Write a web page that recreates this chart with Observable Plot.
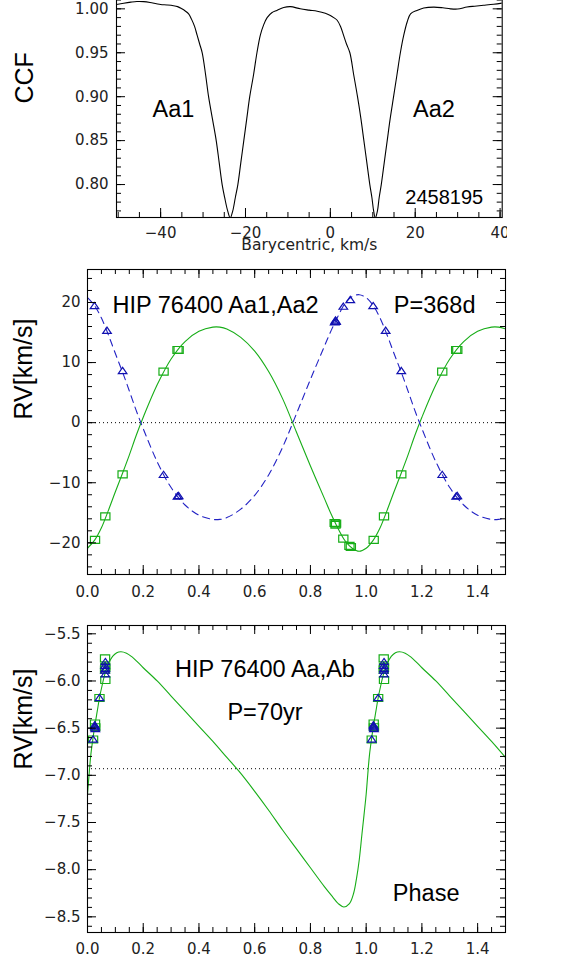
<!DOCTYPE html>
<html><head><meta charset="utf-8">
<script src="https://cdn.jsdelivr.net/npm/d3@7"></script>
<script src="https://cdn.jsdelivr.net/npm/@observablehq/plot@0.6"></script>
<style>
body{margin:0;background:#fff;}
#chart{position:relative;width:572px;height:962px;overflow:hidden;background:#fff;}
</style></head><body><div id="chart"></div>
<script>
// ---------- Panel 1: CCF ----------
const ccfVel = [-50.4,-48.7,-47.0,-45.6,-44.0,-42.5,-41.0,-40.0,-38.5,-37.0,-36.0,-35.0,-34.2,-33.4,-32.7,-32.0,-31.4,-30.8,-30.2,-29.4,-28.7,-27.8,-26.9,-26.2,-25.5,-24.9,-24.2,-23.6,-23.0,-22.4,-21.8,-21.1,-20.4,-19.7,-19.0,-18.1,-17.3,-16.5,-15.7,-14.9,-13.8,-12.6,-11.0,-9.4,-7.1,-5.0,-3.1,-1.2,0.0,0.8,1.6,2.4,3.1,3.8,4.6,5.5,6.4,7.2,7.9,8.6,9.3,9.8,10.2,10.6,11.1,11.5,12.0,12.7,13.4,14.1,14.9,15.7,16.5,17.3,18.1,18.9,20.4,22.0,24.4,26.5,28.3,30.0,32.2,34.0,36.1,38.5,40.5];
const ccfVal = [1.0049,1.0064,1.0076,1.0083,1.0082,1.0073,1.0058,1.0049,1.0044,1.0036,1.0025,1.0000,0.9975,0.9943,0.988,0.980,0.970,0.960,0.950,0.925,0.900,0.875,0.850,0.825,0.800,0.785,0.770,0.762,0.770,0.785,0.800,0.825,0.850,0.875,0.900,0.925,0.950,0.970,0.982,0.990,0.9955,0.9982,1.0015,1.0025,1.0000,0.9985,0.9973,0.9950,0.9924,0.9900,0.9870,0.9800,0.9700,0.9600,0.9500,0.9250,0.9000,0.8750,0.8500,0.8250,0.8000,0.7850,0.7700,0.7620,0.7700,0.7850,0.8000,0.8250,0.8500,0.8750,0.9000,0.9250,0.9500,0.9700,0.9850,0.9943,0.9982,1.0010,1.0020,1.0012,1.0000,0.9998,1.0020,1.0030,1.0040,1.0052,1.0065];
const p1XTicks = [-40, -20, 0, 20, 40];
const p1YTicks = [0.80, 0.85, 0.90, 0.95, 1.00];
const p1Labels = ["Aa1", "Aa2"];
const p1Date = "2458195";
const p1XTitle = "Barycentric, km/s";
const p1YTitle = "CCF";

// ---------- Panel 2: Aa1,Aa2 orbit ----------
const p2CurvePhase = [0,0.025,0.05,0.075,0.1,0.125,0.15,0.175,0.2,0.25,0.3,0.35,0.4,0.45,0.475,0.5,0.55,0.6,0.65,0.7,0.75,0.8,0.85,0.875,0.9,0.925,0.95,0.975,1.0,1.025,1.05,1.075,1.1,1.125,1.15,1.175,1.2,1.25,1.3,1.35,1.4,1.45,1.475,1.5];
const p2CurveAa1 = [-20.9,-19.6,-17.5,-14.6,-11.5,-8.5,-5.4,-2.1,0.9,6.3,10.6,13.5,15.2,15.9,15.9,15.6,14.2,11.9,8.5,4.0,-1.6,-7.2,-12.6,-15.3,-17.7,-19.7,-20.9,-21.4,-20.9,-19.6,-17.5,-14.6,-11.5,-8.5,-5.4,-2.1,0.9,6.3,10.6,13.5,15.2,15.9,15.9,15.6];
const p2CurveAa2 = [20.8,19.5,17.4,14.6,11.5,8.5,5.3,2.0,-1.0,-6.5,-10.8,-13.7,-15.4,-16.1,-16.1,-15.8,-14.4,-12.1,-8.7,-4.1,1.5,7.2,12.7,15.4,17.8,19.9,21.0,21.3,20.8,19.5,17.4,14.6,11.5,8.5,5.3,2.0,-1.0,-6.5,-10.8,-13.7,-15.4,-16.1,-16.1,-15.8];
const p2Aa1Phase = [0.027,0.064,0.126,0.273,0.323,0.327,0.887,0.890,0.892,0.918,0.940,0.945,1.027,1.064,1.126,1.273,1.323,1.327];
const p2Aa1RV    = [-19.5,-15.6,-8.6,8.5,12.1,12.1,-16.7,-17.0,-16.8,-19.3,-20.5,-20.7,-19.5,-15.6,-8.6,8.5,12.1,12.1];
const p2Aa2Phase = [0.025,0.070,0.126,0.273,0.323,0.327,0.887,0.890,0.892,0.918,0.943,1.025,1.070,1.126,1.273,1.323,1.327];
const p2Aa2RV    = [19.4,15.3,8.6,-8.7,-12.3,-12.2,16.7,17.0,16.8,19.3,20.4,19.4,15.3,8.6,-8.7,-12.3,-12.2];
const p2Zero = [0];
const p2XTicks = [0, 0.2, 0.4, 0.6, 0.8, 1.0, 1.2, 1.4];
const p2YTicks = [-20, -10, 0, 10, 20];
const p2Title = "HIP 76400 Aa1,Aa2";
const p2Period = "P=368d";

// ---------- Panel 3: Aa,Ab orbit ----------
const p3CurvePhase = [0,0.006,0.012,0.02,0.027,0.035,0.043,0.053,0.063,0.075,0.09,0.105,0.12,0.14,0.16,0.18,0.2,0.25,0.3,0.35,0.4,0.45,0.5,0.55,0.6,0.65,0.7,0.75,0.8,0.85,0.88,0.9,0.92,0.94,0.955,0.965,0.975,0.985,0.993,1.0,1.006,1.012,1.02,1.027,1.035,1.043,1.053,1.063,1.075,1.09,1.105,1.12,1.14,1.16,1.18,1.2,1.25,1.3,1.35,1.4,1.45,1.5];
const p3CurveRV = [-7.20,-6.98,-6.78,-6.60,-6.46,-6.32,-6.18,-6.04,-5.92,-5.82,-5.74,-5.70,-5.69,-5.705,-5.745,-5.80,-5.86,-6.00,-6.16,-6.32,-6.48,-6.64,-6.81,-6.98,-7.17,-7.37,-7.58,-7.78,-7.98,-8.18,-8.29,-8.36,-8.395,-8.36,-8.25,-8.10,-7.90,-7.62,-7.40,-7.20,-6.98,-6.78,-6.60,-6.46,-6.32,-6.18,-6.04,-5.92,-5.82,-5.74,-5.70,-5.69,-5.705,-5.745,-5.80,-5.86,-6.00,-6.16,-6.32,-6.48,-6.64,-6.81];
const p3SqPhase = [0.020,0.027,0.028,0.043,0.063,0.064,0.063,0.064,1.020,1.027,1.028,1.043,1.063,1.064,1.063,1.064];
const p3SqRV    = [-6.62,-6.45,-6.49,-6.18,-5.76,-5.85,-5.88,-5.99,-6.62,-6.45,-6.49,-6.18,-5.76,-5.85,-5.88,-5.99];
const p3TrPhase = [0.020,0.026,0.027,0.028,0.027,0.043,0.064,0.063,0.064,0.063,0.064,1.020,1.026,1.027,1.028,1.027,1.043,1.064,1.063,1.064,1.063,1.064];
const p3TrRV    = [-6.62,-6.47,-6.49,-6.51,-6.48,-6.18,-5.80,-5.84,-5.87,-5.89,-5.93,-6.62,-6.47,-6.49,-6.51,-6.48,-6.18,-5.80,-5.84,-5.87,-5.89,-5.93];
const p3Gamma = [-6.93];
const p3XTicks = [0, 0.2, 0.4, 0.6, 0.8, 1.0, 1.2, 1.4];
const p3YTicks = [-8.5, -8.0, -7.5, -7.0, -6.5, -6.0, -5.5];
const p3Title = "HIP 76400 Aa,Ab";
const p3Period = "P=70yr";
const p3XTitle = "Phase";
const rvTitle = "RV[km/s]";

// ---------- helpers ----------
const GREEN = "#17ad17", BLUE = "#2222c4", MBLUE = "#1010b0";
const TMAJ = 9, TMIN = 5;
const fmt = n => d => (d < 0 ? "\u2212" : "") + Math.abs(d).toFixed(n);
const tbl = (xs, ys) => xs.map((x, i) => ({x, y: ys[i]}));
function minor(dom, step) {
  const lo = Math.ceil(dom[0] / step - 1e-9), hi = Math.floor(dom[1] / step + 1e-9);
  return d3.range(lo, hi + 1).map(i => +(i * step).toFixed(6));
}
const rectSym = {draw(c, size) { const r = Math.sqrt(size / Math.PI); c.moveTo(-r, -r * 0.75); c.lineTo(r, -r * 0.75); c.lineTo(r, r * 0.75); c.lineTo(-r, r * 0.75); c.closePath(); }};
const triSym = {draw(c, size) { const r = Math.sqrt(size / Math.PI); c.moveTo(0, -r * 0.85); c.lineTo(r, r * 0.6); c.lineTo(-r, r * 0.6); c.closePath(); }};

function boxTicks(xMaj, xMin, yMaj, yMin, W, H, withTop) {
  const s = {stroke: "#000", strokeWidth: 1};
  const m = [
    Plot.tickX(xMin, {x: d => d, insetTop: H - TMIN, ...s}),
    Plot.tickX(xMaj, {x: d => d, insetTop: H - TMAJ, ...s}),
    Plot.tickY(yMin, {y: d => d, insetRight: W - TMIN, ...s}),
    Plot.tickY(yMaj, {y: d => d, insetRight: W - TMAJ, ...s}),
    Plot.tickY(yMin, {y: d => d, insetLeft: W - TMIN, ...s}),
    Plot.tickY(yMaj, {y: d => d, insetLeft: W - TMAJ, ...s})
  ];
  if (withTop) {
    m.push(Plot.tickX(xMin, {x: d => d, insetBottom: H - TMIN, ...s}));
    m.push(Plot.tickX(xMaj, {x: d => d, insetBottom: H - TMAJ, ...s}));
  }
  return m;
}
const baseStyle = {fontFamily: "'DejaVu Sans', sans-serif", fontSize: "15px", background: "white", overflow: "hidden", color: "#000"};
const LAB = "'Liberation Sans', Arial, sans-serif";
const chart = document.getElementById("chart");
function place(svg, top) { svg.style.position = "absolute"; svg.style.left = "0px"; svg.style.top = top + "px"; chart.appendChild(svg); }

// ---------- Panel 1 ----------
{
  const width = 507, height = 272, mt = 9, mb = 43, ml = 116, mr = 5.3;
  const xd = [-50.4, 40.5], yd = [0.7625, 1.0129];
  const W = width - ml - mr, H = height - mt - mb;
  const svg = Plot.plot({
    width, height, marginTop: mt, marginBottom: mb, marginLeft: ml, marginRight: mr,
    x: {domain: xd, label: null}, y: {domain: yd, label: null},
    style: baseStyle,
    marks: [
      Plot.line(tbl(ccfVel, ccfVal), {x: "x", y: "y", stroke: "#000", strokeWidth: 1.1, curve: "catmull-rom", clip: true}),
      ...boxTicks(p1XTicks, minor(xd, 5), p1YTicks, minor(yd, 0.01), W, H, false),
      Plot.frame({stroke: "#000", strokeWidth: 1.1}),
      Plot.axisX(p1XTicks, {anchor: "bottom", tickSize: 0, tickPadding: 10, tickFormat: fmt(0), label: null, fill: "#222"}),
      Plot.axisY(p1YTicks, {anchor: "left", tickSize: 0, tickPadding: 8, tickFormat: fmt(2), label: null, fill: "#222"}),
      Plot.text([p1Labels[0]], {frameAnchor: "top-left", dx: 57, dy: 103, fontSize: 23.5, fontFamily: LAB, textAnchor: "middle"}),
      Plot.text([p1Labels[1]], {frameAnchor: "top-left", dx: 317.5, dy: 103, fontSize: 23.5, fontFamily: LAB, textAnchor: "middle"}),
      Plot.text([p1Date], {frameAnchor: "bottom-right", dx: -19, dy: -14, fontSize: 20, fontFamily: LAB, textAnchor: "end"}),
      Plot.text([p1XTitle], {frameAnchor: "bottom", dy: 32, fontSize: 15.5, fill: "#222"}),
      Plot.text([p1YTitle], {frameAnchor: "left", dx: -92, dy: -4, rotate: -90, fontSize: 25, fontFamily: LAB})
    ]
  });
  place(svg, -12);
}

// ---------- Panel 2 ----------
{
  const width = 572, height = 345, mt = 9, mb = 31, ml = 87, mr = 67;
  const xd = [0, 1.5], yd = [-25.27, 25.49];
  const W = width - ml - mr, H = height - mt - mb;
  const svg = Plot.plot({
    width, height, marginTop: mt, marginBottom: mb, marginLeft: ml, marginRight: mr,
    x: {domain: xd, label: null}, y: {domain: yd, label: null},
    style: baseStyle,
    marks: [
      Plot.ruleY(p2Zero, {stroke: "#000", strokeWidth: 1, strokeDasharray: "1,3"}),
      Plot.line(tbl(p2CurvePhase, p2CurveAa1), {x: "x", y: "y", stroke: GREEN, strokeWidth: 1.1, curve: "catmull-rom", clip: true}),
      Plot.line(tbl(p2CurvePhase, p2CurveAa2), {x: "x", y: "y", stroke: BLUE, strokeWidth: 1.1, strokeDasharray: "7,5", curve: "catmull-rom", clip: true}),
      Plot.dot(tbl(p2Aa1Phase, p2Aa1RV), {x: "x", y: "y", symbol: rectSym, r: 4.6, fill: "none", stroke: GREEN, strokeWidth: 1.2}),
      Plot.dot(tbl(p2Aa2Phase, p2Aa2RV), {x: "x", y: "y", symbol: triSym, r: 4.3, fill: "none", stroke: MBLUE, strokeWidth: 1.2}),
      ...boxTicks(p2XTicks, minor(xd, 0.05), p2YTicks, minor(yd, 2), W, H, true),
      Plot.frame({stroke: "#000", strokeWidth: 1.1}),
      Plot.axisX(p2XTicks, {anchor: "bottom", tickSize: 0, tickPadding: 12, tickFormat: fmt(1), label: null, fill: "#222"}),
      Plot.axisY(p2YTicks, {anchor: "left", tickSize: 0, tickPadding: 7, tickFormat: fmt(0), label: null, fill: "#222"}),
      Plot.text([p2Title], {frameAnchor: "top-left", dx: 25, dy: 27, fontSize: 23.5, fontFamily: LAB, textAnchor: "start"}),
      Plot.text([p2Period], {frameAnchor: "top-right", dx: -30, dy: 27, fontSize: 23.5, fontFamily: LAB, textAnchor: "end"}),
      Plot.text([rvTitle], {frameAnchor: "left", dx: -64, dy: -2.5, rotate: -90, fontSize: 25, fontFamily: LAB})
    ]
  });
  place(svg, 260);
}

// ---------- Panel 3 ----------
{
  const width = 572, height = 357, mt = 20, mb = 30, ml = 87, mr = 67;
  const xd = [0, 1.5], yd = [-8.666, -5.412];
  const W = width - ml - mr, H = height - mt - mb;
  const svg = Plot.plot({
    width, height, marginTop: mt, marginBottom: mb, marginLeft: ml, marginRight: mr,
    x: {domain: xd, label: null}, y: {domain: yd, label: null},
    style: baseStyle,
    marks: [
      Plot.ruleY(p3Gamma, {stroke: "#000", strokeWidth: 1, strokeDasharray: "1,3"}),
      Plot.line(tbl(p3CurvePhase, p3CurveRV), {x: "x", y: "y", stroke: GREEN, strokeWidth: 1.1, curve: "catmull-rom", clip: true}),
      Plot.dot(tbl(p3SqPhase, p3SqRV), {x: "x", y: "y", symbol: rectSym, r: 4.6, fill: "none", stroke: GREEN, strokeWidth: 1.2}),
      Plot.dot(tbl(p3TrPhase, p3TrRV), {x: "x", y: "y", symbol: triSym, r: 4.3, fill: "none", stroke: MBLUE, strokeWidth: 1.2}),
      ...boxTicks(p3XTicks, minor(xd, 0.05), p3YTicks, minor(yd, 0.1), W, H, true),
      Plot.frame({stroke: "#000", strokeWidth: 1.1}),
      Plot.axisX(p3XTicks, {anchor: "bottom", tickSize: 0, tickPadding: 10.5, tickFormat: fmt(1), label: null, fill: "#222"}),
      Plot.axisY(p3YTicks, {anchor: "left", tickSize: 0, tickPadding: 7, tickFormat: fmt(1), label: null, fill: "#222"}),
      Plot.text([p3Title], {frameAnchor: "top-left", dx: 177.5, dy: 35, fontSize: 23.5, fontFamily: LAB, textAnchor: "middle"}),
      Plot.text([p3Period], {frameAnchor: "top-left", dx: 177.5, dy: 78, fontSize: 23.5, fontFamily: LAB, textAnchor: "middle"}),
      Plot.text([p3XTitle], {frameAnchor: "bottom-right", dx: -46, dy: -32, fontSize: 23.5, fontFamily: LAB, textAnchor: "end"}),
      Plot.text([rvTitle], {frameAnchor: "left", dx: -64, dy: -9.5, rotate: -90, fontSize: 25, fontFamily: LAB})
    ]
  });
  place(svg, 605);
}
</script></body></html>
